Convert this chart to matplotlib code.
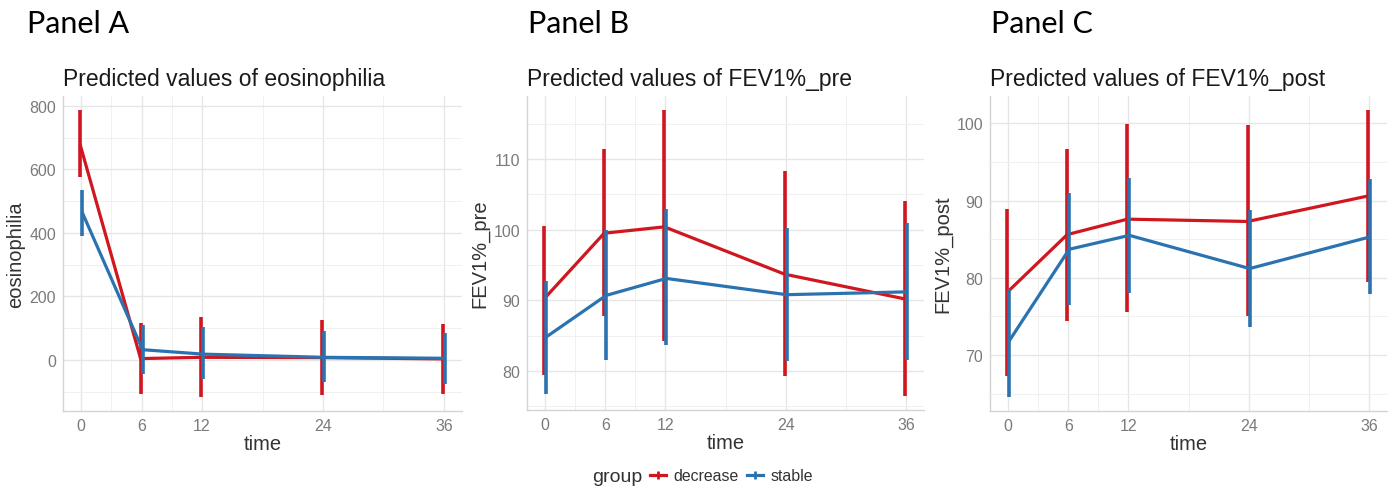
import matplotlib
matplotlib.use("Agg")
import matplotlib.pyplot as plt
from matplotlib.lines import Line2D
import numpy as np

# data
time = [0, 6, 12, 24, 36]
groups = ["decrease", "stable"]

eos_dec = [678, 4, 8, 7, 3]
eos_dec_lo = [576, -106, -116, -110, -106]
eos_dec_hi = [786, 115, 136, 125, 113]
eos_sta = [465, 32, 18, 8, 5]
eos_sta_lo = [391, -45, -61, -71, -77]
eos_sta_hi = [536, 110, 104, 92, 86]

pre_dec = [90.2, 99.5, 100.4, 93.7, 90.2]
pre_dec_lo = [79.5, 87.8, 84.2, 79.3, 76.5]
pre_dec_hi = [100.5, 111.4, 116.9, 108.3, 104.0]
pre_sta = [84.8, 90.7, 93.1, 90.8, 91.2]
pre_sta_lo = [76.8, 81.6, 83.7, 81.4, 81.6]
pre_sta_hi = [92.8, 100.0, 102.9, 100.3, 100.9]

post_dec = [78.1, 85.6, 87.6, 87.3, 90.6]
post_dec_lo = [67.3, 74.4, 75.6, 75.0, 79.5]
post_dec_hi = [88.9, 96.7, 99.9, 99.8, 101.7]
post_sta = [71.8, 83.7, 85.5, 81.2, 85.3]
post_sta_lo = [64.6, 76.5, 78.0, 73.6, 77.9]
post_sta_hi = [78.5, 91.0, 92.9, 88.8, 92.8]

RED = "#d0161e"
BLUE = "#2b73b0"

plt.rcParams["font.family"] = ["Liberation Sans", "DejaVu Sans"]

fig = plt.figure(figsize=(13.94, 4.89), dpi=100)
W, H = 1394.0, 489.0

def axes_px(left, right, top, bottom):
    return fig.add_axes([left / W, 1 - bottom / H, (right - left) / W, (bottom - top) / H])

panels = [
    dict(box=(63, 462, 97, 412), title="Predicted values of eosinophilia", ylabel="eosinophilia",
         yticks=[0, 200, 400, 600, 800], yminor=[-100, 100, 300, 500, 700],
         series=[(eos_dec, eos_dec_lo, eos_dec_hi), (eos_sta, eos_sta_lo, eos_sta_hi)],
         letter="Panel A", lx=27),
    dict(box=(527, 924, 97, 411), title="Predicted values of FEV1%_pre", ylabel="FEV1%_pre",
         yticks=[80, 90, 100, 110], yminor=[75, 85, 95, 105, 115],
         series=[(pre_dec, pre_dec_lo, pre_dec_hi), (pre_sta, pre_sta_lo, pre_sta_hi)],
         letter="Panel B", lx=528),
    dict(box=(990, 1387, 97, 412), title="Predicted values of FEV1%_post", ylabel="FEV1%_post",
         yticks=[70, 80, 90, 100], yminor=[65, 75, 85, 95],
         series=[(post_dec, post_dec_lo, post_dec_hi), (post_sta, post_sta_lo, post_sta_hi)],
         letter="Panel C", lx=991),
]

colors = [RED, BLUE]
dodge = [-0.1, 0.1]

for p in panels:
    ax = axes_px(*p["box"])
    lo_all, hi_all = [], []
    for (y, lo, hi), c, d in zip(p["series"], colors, dodge):
        x = np.array(time) + d
        ax.plot(x, y, color=c, lw=2.3, zorder=3, solid_capstyle="butt")
        ax.vlines(x, lo, hi, color=c, lw=2.6, zorder=3)
        lo_all += lo
        hi_all += hi
    ymin, ymax = min(lo_all), max(hi_all)
    pad = (ymax - ymin) * 0.05
    ax.set_ylim(ymin - pad, ymax + pad)
    ax.set_xlim(-1.8, 37.8)
    ax.set_xticks(time)
    ax.set_xticks([3, 9, 18, 30], minor=True)
    ax.set_yticks(p["yticks"])
    ax.set_yticks(p["yminor"], minor=True)
    ax.grid(True, which="major", color="#e6e6e6", lw=1.0, zorder=0)
    ax.grid(True, which="minor", color="#f0f0f0", lw=0.7, zorder=0)
    ax.tick_params(which="both", length=0, labelsize=11.5, labelcolor="#7a7a7a", pad=5)
    for s in ["top", "right"]:
        ax.spines[s].set_visible(False)
    for s in ["left", "bottom"]:
        ax.spines[s].set_color("#d4d4d4")
        ax.spines[s].set_linewidth(1.0)
    ax.set_xlabel("time", fontsize=14.5, color="#333333", labelpad=1)
    ax.set_ylabel(p["ylabel"], fontsize=14.5, color="#333333", labelpad=3)
    ax.set_title(p["title"], loc="left", fontsize=16.5, color="#1a1a1a", pad=8)
    fig.text(p["lx"] / W, 1 - 10 / H, p["letter"], fontsize=22, family=["Lato", "DejaVu Sans"],
             va="top", ha="left", color="black")

# legend at the bottom: "group" title, then the two keys
fig.text(592 / W, 1 - 478 / H, "group", fontsize=14, color="#333333", va="center", ha="left")
handles = [Line2D([0], [0], color=c, lw=2.3, marker="|", markersize=6, markeredgewidth=2.0)
           for c in colors]
fig.legend(handles, groups, loc="center left", bbox_to_anchor=(650 / W, 1 - 477 / H),
           ncol=2, frameon=False, fontsize=11.4, handlelength=1.0, handletextpad=0.5,
           columnspacing=0.5, borderpad=0, borderaxespad=0, labelcolor="#333333")

fig.savefig("out.png", dpi=100, facecolor="white")
